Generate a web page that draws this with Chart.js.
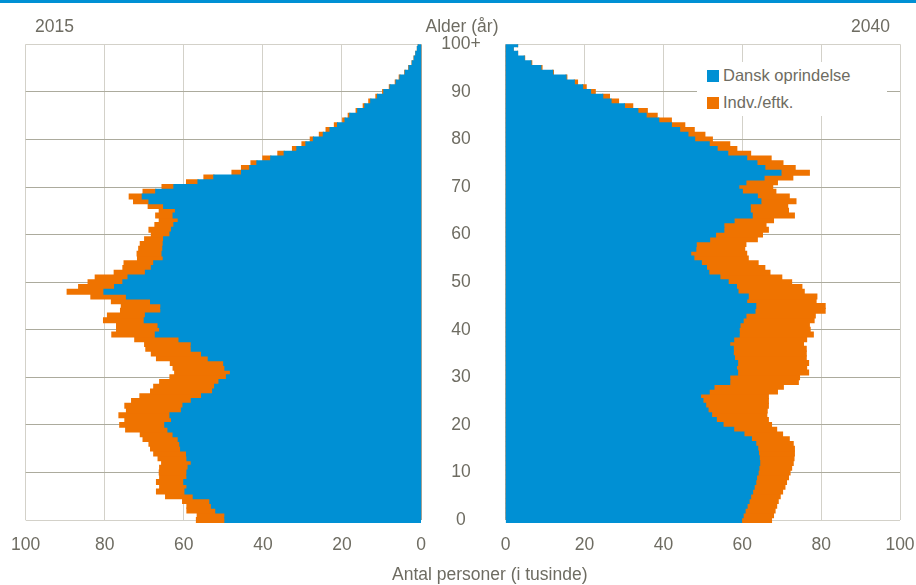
<!DOCTYPE html>
<html>
<head>
<meta charset="utf-8">
<script src="https://cdn.jsdelivr.net/npm/chart.js@4.4.0/dist/chart.umd.min.js"></script>
<style>
  html, body { margin: 0; padding: 0; background: #fff; }
  body {
    width: 916px; height: 585px; position: relative; overflow: hidden;
    font-family: "Liberation Sans", Arial, sans-serif;
    color: #6e6c62;
  }
  #topline { position: absolute; left: 0; top: 0; width: 916px; height: 3px; background: #0090d4; }
  .box { position: absolute; top: 0; height: 585px; }
  #leftBox { left: 0; width: 440px; }
  #rightBox { left: 420px; width: 496px; }
  .txt { position: absolute; font-size: 17.5px; line-height: 20px; white-space: nowrap; }
  #legend { position: absolute; left: 697px; top: 62px; width: 190px; height: 54px; background: #fff; }
  .item { position: absolute; left: 10px; height: 20px; line-height: 20px; font-size: 16.5px; white-space: nowrap; }
  .item span.sw { display: inline-block; width: 12px; height: 12px; margin-right: 4px; vertical-align: -1px; }
</style>
</head>
<body>
<div id="topline"></div>
<div class="box" id="leftBox"><canvas id="chart2015"></canvas></div>
<div class="box" id="rightBox"><canvas id="chart2040"></canvas></div>
<div class="txt" style="left:35px; top:16px;">2015</div>
<div class="txt" style="left:462px; top:16px; transform:translateX(-50%);">Alder (år)</div>
<div class="txt" style="right:26px; top:16px;">2040</div>
<div class="txt" style="left:392px; top:564px;">Antal personer (i tusinde)</div>
<div id="legend"></div>

<script>
// alder 0 .. 100+ (1000 personer)
const ages = Array.from({ length: 101 }, (_, i) => i);
const seriesNames = ["Dansk oprindelse", "Indv./eftk."];

const dansk2015 = [
  49.6, 49.6, 51.9, 53.0, 53.4, 57.6, 59.7, 59.2, 60.0, 59.2,
  59.2, 58.9, 58.1, 59.2, 59.3, 60.8, 61.0, 61.4, 62.7, 64.0,
  64.8, 63.1, 63.5, 60.6, 60.2, 58.1, 55.5, 52.7, 52.2, 51.1,
  49.2, 48.2, 49.6, 49.9, 53.8, 55.5, 58.1, 58.1, 61.2, 67.2,
  66.1, 66.5, 70.0, 69.7, 65.8, 65.8, 68.4, 74.5, 80.2, 77.5,
  75.4, 74.1, 69.7, 68.2, 67.6, 65.2, 65.5, 65.3, 65.2, 65.1,
  63.5, 63.1, 62.5, 61.4, 62.7, 62.1, 65.1, 68.8, 70.5, 67.1,
  62.5, 56.4, 52.4, 45.4, 43.3, 41.5, 38.0, 34.6, 31.4, 29.1,
  27.2, 24.7, 23.0, 21.1, 19.2, 18.0, 16.0, 14.2, 12.7, 11.0,
  9.4, 7.8, 6.3, 5.3, 4.0, 3.0, 2.2, 1.7, 1.3, 0.9,
  0.7
];
const indv2015 = [
  7.2, 7.0, 7.3, 6.2, 6.9, 7.0, 7.2, 6.9, 6.9, 6.9,
  7.0, 7.2, 7.5, 7.3, 8.3, 7.6, 7.8, 8.9, 8.3, 10.7,
  11.4, 11.8, 12.9, 13.9, 14.7, 15.1, 15.6, 15.7, 15.4, 15.0,
  14.3, 14.1, 13.1, 13.5, 13.1, 12.7, 11.5, 11.8, 11.2, 11.0,
  10.9, 10.5, 10.3, 9.6, 10.2, 10.0, 9.9, 9.0, 9.3, 9.1,
  8.8, 8.3, 7.9, 7.2, 7.5, 6.5, 6.3, 6.1, 5.8, 4.8,
  4.7, 5.7, 4.8, 4.8, 4.4, 4.1, 3.9, 3.9, 3.3, 3.2,
  3.0, 2.9, 2.5, 2.4, 2.1, 1.5, 2.0, 1.6, 1.1, 1.0,
  0.8, 1.0, 1.0, 0.8, 0.6, 0.4, 0.4, 0.4, 0.5, 0.4,
  0.3, 0.2, 0.2, 0.2, 0.1, 0.1, 0.05, 0.05, 0, 0,
  0
];
const dansk2040 = [
  59.8, 60.2, 60.7, 61.2, 61.7, 62.1, 62.6, 63.0, 63.4, 63.6,
  64.0, 64.2, 64.4, 64.3, 64.1, 63.9, 63.4, 62.3, 60.4, 57.8,
  55.1, 53.4, 52.2, 51.3, 50.7, 50.0, 49.4, 51.6, 52.8, 56.8,
  56.8, 58.8, 58.5, 58.8, 58.0, 57.7, 57.7, 56.8, 57.8, 59.2,
  59.2, 59.4, 60.2, 60.9, 63.2, 63.4, 61.1, 61.5, 58.9, 58.5,
  56.4, 54.3, 51.5, 50.9, 49.6, 47.7, 46.9, 48.2, 48.3, 51.7,
  53.2, 55.3, 55.3, 57.9, 62.5, 62.0, 62.0, 64.7, 63.8, 60.0,
  59.1, 60.9, 65.5, 69.8, 65.7, 63.7, 61.1, 56.3, 53.6, 51.6,
  47.9, 46.2, 44.1, 42.0, 38.8, 35.6, 33.5, 30.1, 26.7, 24.6,
  21.5, 19.5, 17.4, 15.3, 11.9, 8.9, 6.4, 4.7, 3.0, 1.9,
  3.0
];
const indv2040 = [
  7.6, 7.7, 7.6, 7.5, 7.4, 7.5, 7.6, 7.8, 7.8, 8.1,
  8.1, 8.3, 8.5, 8.8, 9.1, 9.3, 9.5, 9.6, 9.8, 10.9,
  12.3, 13.2, 14.0, 15.0, 15.9, 16.6, 17.2, 17.3, 17.6, 17.4,
  17.7, 18.0, 17.8, 18.0, 18.2, 18.5, 18.5, 18.7, 18.5, 18.8,
  18.0, 17.6, 18.0, 17.6, 17.8, 17.6, 17.6, 17.4, 16.8, 16.6,
  16.1, 15.7, 15.5, 14.8, 14.4, 13.8, 14.2, 12.4, 12.6, 12.1,
  11.9, 11.3, 10.7, 10.0, 10.7, 9.7, 9.5, 8.9, 8.1, 8.5,
  8.6, 8.0, 7.3, 7.2, 7.7, 6.6, 6.2, 5.8, 5.0, 5.2,
  4.5, 4.3, 3.7, 3.4, 3.2, 2.8, 2.4, 2.1, 1.9, 1.7,
  1.2, 0.9, 0.8, 0.2, 0.2, 0.3, 0.2, 0.1, 0, 0,
  0
];

const BLUE = "#0090d4";
const ORANGE = "#ef7300";
const TEXT = "#6e6c62";
const GRID_LIGHT = "#d3d1c9";
const GRID_DARK = "#acab9d";
const AXIS = "#a3a194";

Chart.defaults.font.family = '"Liberation Sans", Arial, sans-serif';
Chart.defaults.font.size = 17.5;
Chart.defaults.color = TEXT;

function makeChart(id, dansk, indv, isLeft) {
  const barOpts = {
    borderWidth: 0,
    barPercentage: 1,
    categoryPercentage: 1,
    inflateAmount: 0.6,
    clip: { left: 0, top: 0, right: 0, bottom: 3 },
  };
  return new Chart(document.getElementById(id), {
    type: "bar",
    data: {
      labels: ages,
      datasets: [
        Object.assign({ label: seriesNames[0], data: dansk, backgroundColor: BLUE }, barOpts),
        Object.assign({ label: seriesNames[1], data: indv, backgroundColor: ORANGE }, barOpts),
      ],
    },
    options: {
      indexAxis: "y",
      responsive: true,
      maintainAspectRatio: false,
      animation: false,
      layout: {
        padding: isLeft
          ? { left: 25.7, right: 19, top: 44.3, bottom: 0 }
          : { left: 0, right: 16, top: 44.3, bottom: 0 },
      },
      plugins: {
        legend: { display: false },
      },
      scales: {
        x: {
          type: "linear",
          min: 0,
          max: 100,
          reverse: isLeft,
          stacked: true,
          border: { display: false },
          grid: {
            drawTicks: false,
            color: (c) => (c.tick && c.tick.value === 0 ? AXIS : GRID_LIGHT),
          },
          ticks: { stepSize: 20, padding: 15 },
          afterFit: (s) => {
            s.height = 65;
            s.paddingLeft = 0;
            s.paddingRight = 0;
          },
        },
        y: {
          type: "linear",
          min: 0,
          max: 100,
          offset: false,
          stacked: true,
          position: isLeft ? "right" : "left",
          border: { display: false },
          grid: {
            offset: false,
            drawTicks: false,
            color: (c) => (c.tick && (c.tick.value === 0 || c.tick.value === 100) ? GRID_LIGHT : GRID_DARK),
          },
          ticks: {
            display: !isLeft,
            stepSize: 10,
            padding: 25,
            crossAlign: "center",
            callback: (v) => (v === 100 ? "100+" : v),
          },
          afterFit: (s) => {
            s.width = isLeft ? 0 : 85.7;
            s.paddingTop = 0;
            s.paddingBottom = 0;
          },
        },
      },
    },
  });
}

const chart2015 = makeChart("chart2015", dansk2015, indv2015, true);
const chart2040 = makeChart("chart2040", dansk2040, indv2040, false);

// legend inside the 2040 panel
const legend = document.getElementById("legend");
chart2040.data.datasets.forEach((ds, i) => {
  const row = document.createElement("div");
  row.className = "item";
  row.style.top = (3 + i * 26.5) + "px";
  const sw = document.createElement("span");
  sw.className = "sw";
  sw.style.background = ds.backgroundColor;
  row.appendChild(sw);
  row.appendChild(document.createTextNode(ds.label));
  legend.appendChild(row);
});
</script>
</body>
</html>
